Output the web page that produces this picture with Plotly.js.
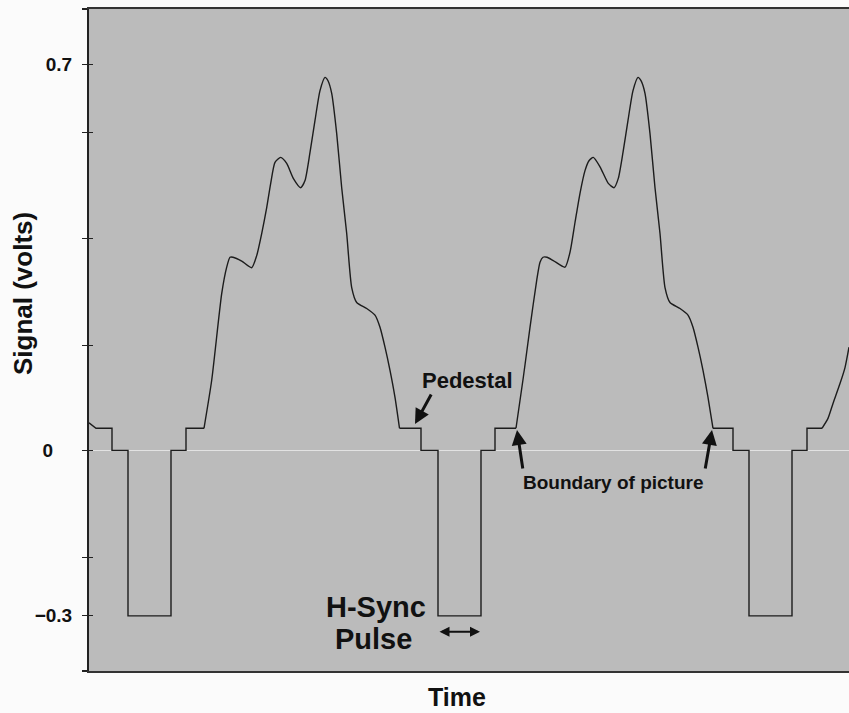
<!DOCTYPE html>
<html><head><meta charset="utf-8">
<script src="https://cdn.plot.ly/plotly-3.0.1.min.js"></script>
<style>html,body{margin:0;padding:0;background:#fbfbfb}#chart{width:849px;height:713px}</style>
</head><body><div id="chart"></div>
<script>
// Composite video line: time (arbitrary units), signal (volts)
// Blanking intervals: front porch pedestal, blanking level, H-sync pulse, back porch
const blank1Time  = [0, 7, 23, 23, 39, 39, 82, 82, 97, 97, 115];
const blank1Volts = [0.05, 0.04, 0.04, 0, 0, -0.3, -0.3, 0, 0, 0.04, 0.04];
const blank2Time  = [310.5, 332, 332, 349, 349, 392, 392, 406, 406, 427];
const blank2Volts = [0.04, 0.04, 0, 0, -0.3, -0.3, 0, 0, 0.04, 0.04];
const blank3Time  = [624, 644, 644, 660, 660, 703, 703, 718, 718, 733];
const blank3Volts = [0.04, 0.04, 0, 0, -0.3, -0.3, 0, 0, 0.04, 0.04];

// Active picture portions of each line
const picture1Time  = [115, 122.7, 132.7, 137.7, 141, 144, 152.7, 162.7, 167.7, 172.7, 177.7, 181.7, 186, 191.7, 197.7, 204.3, 211.7, 216, 221, 226, 231, 236, 239, 242.7, 247.7, 252.7, 257.7, 262.7, 267.7, 277.7, 286, 291, 296, 301, 306, 310.5];
const picture1Volts = [0.04, 0.127, 0.284, 0.332, 0.350, 0.350, 0.343, 0.331, 0.353, 0.393, 0.440, 0.484, 0.522, 0.531, 0.520, 0.493, 0.476, 0.489, 0.540, 0.598, 0.652, 0.676, 0.670, 0.647, 0.574, 0.476, 0.393, 0.295, 0.268, 0.257, 0.245, 0.223, 0.187, 0.145, 0.096, 0.04];
const picture2Time  = [427, 434.3, 441, 447.7, 451, 454, 458, 464.3, 476, 481, 486, 491, 496, 500, 504.3, 511, 519.3, 525, 529.3, 534, 539, 544, 549, 552, 556, 561, 566, 571, 576, 581, 591, 599, 604, 609, 614, 619, 624];
const picture2Volts = [0.04, 0.132, 0.223, 0.308, 0.341, 0.350, 0.350, 0.344, 0.332, 0.359, 0.413, 0.466, 0.507, 0.525, 0.531, 0.514, 0.484, 0.476, 0.493, 0.540, 0.598, 0.652, 0.676, 0.670, 0.647, 0.574, 0.476, 0.393, 0.295, 0.268, 0.257, 0.245, 0.223, 0.187, 0.145, 0.096, 0.04];
const picture3Time  = [733, 739, 744, 751, 756, 760];
const picture3Volts = [0.04, 0.058, 0.085, 0.121, 0.150, 0.187];

// Y axis ticks
const yTickVals  = [-0.4, -0.3, -0.194, 0, 0.19, 0.384, 0.576, 0.7, 0.8];
const yTickText  = ["", "<b>\u22120.3</b>", "", "<b>0</b>\u2002\u2002", "", "", "", "<b>0.7</b>", ""];

const FONT = 'Liberation Sans, Arial, Helvetica, sans-serif';
const lineStyle = {color: '#1c1c1c', width: 1.4};

function seg(t, v, smooth) {
  return {x: t, y: v, type: 'scatter', mode: 'lines', hoverinfo: 'skip',
    line: Object.assign({}, lineStyle, smooth ? {shape: 'spline', smoothing: 0.6} : {shape: 'linear'}),
    showlegend: false, cliponaxis: true};
}

const data = [
  seg(blank1Time, blank1Volts, false),
  seg(picture1Time, picture1Volts, true),
  seg(blank2Time, blank2Volts, false),
  seg(picture2Time, picture2Volts, true),
  seg(blank3Time, blank3Volts, false),
  seg(picture3Time, picture3Volts, true),
  {x: [], y: [], type: 'scatter', mode: 'lines', yaxis: 'y2', showlegend: false, hoverinfo: 'skip'}
];

const yRange = [-0.4, 0.8];
const layout = {
  width: 849, height: 713,
  margin: {l: 89, r: 0, t: 9, b: 42, pad: 0},
  paper_bgcolor: '#fbfbfb',
  plot_bgcolor: '#bbbbbb',
  font: {family: FONT, color: '#111'},
  showlegend: false,
  xaxis: {
    range: [0, 760], showticklabels: false, ticks: '', showgrid: false, zeroline: false,
    showline: true, mirror: true, linecolor: '#333', linewidth: 2, fixedrange: true
  },
  yaxis: {
    range: yRange, tickmode: 'array', tickvals: yTickVals, ticktext: yTickText,
    ticks: 'outside', ticklen: 5, tickwidth: 1.2, tickcolor: '#222',
    tickfont: {family: FONT, size: 19, color: '#111'},
    ticklabelstandoff: 6,
    showgrid: false, zeroline: true, zerolinecolor: '#e2e2e2', zerolinewidth: 1.5,
    showline: true, linecolor: '#222', linewidth: 2, fixedrange: true
  },
  yaxis2: {
    overlaying: 'y', side: 'left', anchor: 'x', range: yRange, tickmode: 'array', tickvals: yTickVals,
    ticks: 'inside', ticklen: 4, tickwidth: 1.2, tickcolor: '#222', showticklabels: false,
    showgrid: false, zeroline: false, showline: false, fixedrange: true
  },
  annotations: [
    {xref: 'paper', yref: 'paper', x: -0.0868, y: 0.5695, text: '<b>Signal (volts)</b>', textangle: -90,
      showarrow: false, xanchor: 'center', yanchor: 'middle', font: {family: FONT, size: 26, color: '#111'}},
    {xref: 'paper', yref: 'paper', x: 0.4842, y: -0.0393, text: '<b>Time</b>',
      showarrow: false, xanchor: 'center', yanchor: 'middle', font: {family: FONT, size: 25, color: '#111'}},
    {xref: 'x', yref: 'y', x: 287, y: -0.284, text: '<b>H-Sync</b>', showarrow: false,
      xanchor: 'center', yanchor: 'middle', font: {family: FONT, size: 29, color: '#111'}},
    {xref: 'x', yref: 'y', x: 284, y: -0.342, text: '<b>Pulse</b>', showarrow: false,
      xanchor: 'center', yanchor: 'middle', font: {family: FONT, size: 29, color: '#111'}},
    {xref: 'x', yref: 'y', x: 378.5, y: 0.1265, text: '<b>Pedestal</b>', showarrow: false,
      xanchor: 'center', yanchor: 'middle', font: {family: FONT, size: 22, color: '#111'}},
    {xref: 'x', yref: 'y', x: 524.5, y: -0.0575, text: '<b>Boundary of picture</b>', showarrow: false,
      xanchor: 'center', yanchor: 'middle', font: {family: FONT, size: 19, color: '#111'}},
    // arrows
    {xref: 'x', yref: 'y', x: 326, y: 0.0477, ax: 17, ay: -31, text: '', showarrow: true,
      arrowhead: 2, arrowsize: 1, arrowwidth: 3, arrowcolor: '#111'},
    {xref: 'x', yref: 'y', x: 428, y: 0.0368, ax: 6, ay: 40, text: '', showarrow: true,
      arrowhead: 2, arrowsize: 1, arrowwidth: 3, arrowcolor: '#111'},
    {xref: 'x', yref: 'y', x: 623, y: 0.0368, ax: -7, ay: 40, text: '', showarrow: true,
      arrowhead: 2, arrowsize: 1, arrowwidth: 3, arrowcolor: '#111'},
    {xref: 'x', yref: 'y', axref: 'x', ayref: 'y', x: 391, y: -0.329, ax: 349, ay: -0.329, text: '',
      showarrow: true, arrowside: 'end+start', arrowhead: 2, startarrowhead: 2, arrowsize: 1,
      startarrowsize: 1, arrowwidth: 2, arrowcolor: '#111'}
  ]
};

Plotly.newPlot('chart', data, layout, {displayModeBar: false, staticPlot: true});
</script>
</body></html>
